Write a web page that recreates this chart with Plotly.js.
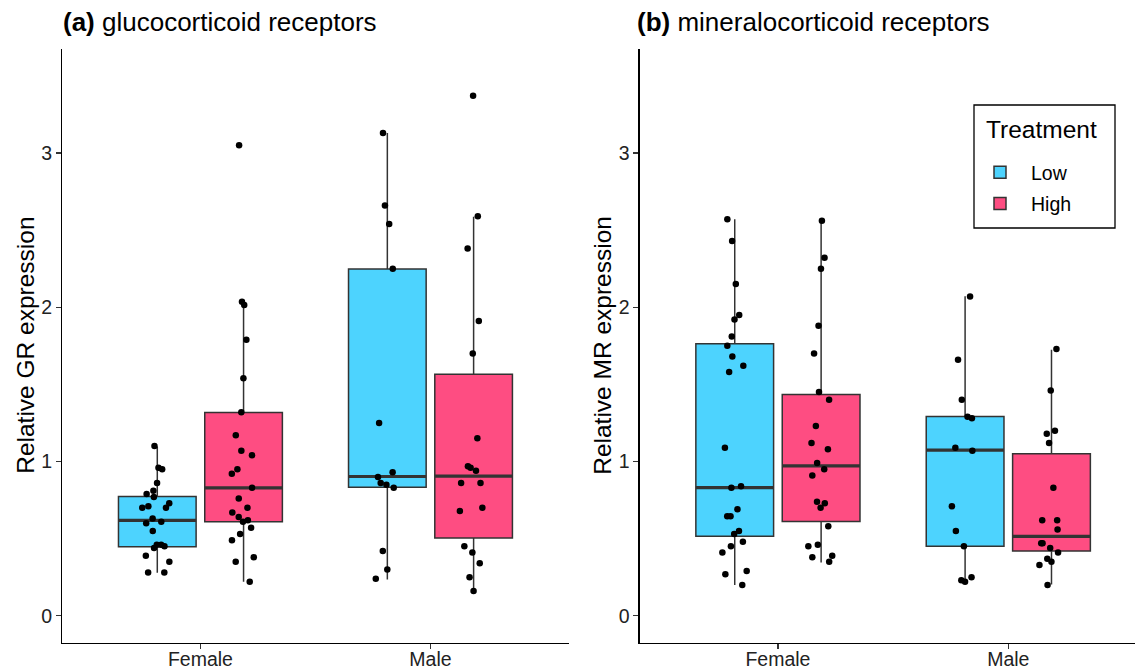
<!DOCTYPE html>
<html>
<head>
<meta charset="utf-8">
<script src="https://cdn.plot.ly/plotly-3.0.1.min.js"></script>
<style>
  html, body { margin: 0; padding: 0; background: #fff; }
  #chart { width: 1135px; height: 669px; }
</style>
</head>
<body>
<div id="chart"></div>
<script>
// ---------------- data ----------------
const categories = ['Female', 'Male'];
const treatments = ['Low', 'High'];

// Panel (a): relative GR expression, individual samples
const GR_low_female  = [1.10, 0.95, 0.96, 0.86, 0.81, 0.79, 0.77, 0.73, 0.70, 0.71, 0.70, 0.63, 0.61, 0.60, 0.55, 0.46, 0.44, 0.46, 0.45, 0.39, 0.35, 0.28, 0.28];
const GR_high_female = [3.05, 2.035, 2.015, 1.79, 1.54, 1.32, 1.17, 1.07, 1.04, 0.95, 0.92, 0.83, 0.76, 0.70, 0.67, 0.64, 0.62, 0.61, 0.57, 0.53, 0.49, 0.38, 0.35, 0.22];
const GR_low_male    = [3.13, 2.66, 2.54, 2.25, 1.25, 0.93, 0.90, 0.86, 0.85, 0.83, 0.42, 0.30, 0.24];
const GR_high_male   = [3.37, 2.59, 2.38, 1.91, 1.70, 1.15, 0.97, 0.96, 0.94, 0.86, 0.86, 0.70, 0.68, 0.45, 0.41, 0.34, 0.25, 0.16];

// Panel (a): box statistics [Female, Male]
const GR_low_q1      = [0.448, 0.833];
const GR_low_median  = [0.619, 0.903];
const GR_low_q3      = [0.773, 2.247];
const GR_low_lower   = [0.279, 0.236];
const GR_low_upper   = [1.097, 3.130];
const GR_high_q1     = [0.610, 0.504];
const GR_high_median = [0.829, 0.905];
const GR_high_q3     = [1.318, 1.565];
const GR_high_lower  = [0.221, 0.162];
const GR_high_upper  = [2.024, 2.587];

// Panel (b): relative MR expression, individual samples
const MR_low_female  = [2.57, 2.43, 2.15, 1.92, 1.95, 1.81, 1.75, 1.68, 1.62, 1.58, 1.09, 0.84, 0.83, 0.69, 0.645, 0.645, 0.55, 0.53, 0.48, 0.45, 0.41, 0.29, 0.27, 0.20];
const MR_high_female = [2.56, 2.32, 2.25, 1.88, 1.70, 1.45, 1.40, 1.23, 1.12, 1.08, 0.99, 0.95, 0.91, 0.74, 0.73, 0.70, 0.58, 0.46, 0.45, 0.39, 0.38, 0.35];
const MR_low_male    = [2.07, 1.66, 1.40, 1.28, 1.29, 1.09, 1.07, 0.71, 0.55, 0.45, 0.23, 0.22, 0.25];
const MR_high_male   = [1.73, 1.46, 1.20, 1.18, 1.12, 0.83, 0.62, 0.62, 0.56, 0.47, 0.47, 0.44, 0.41, 0.37, 0.35, 0.33, 0.20];

// Panel (b): box statistics [Female, Male]
const MR_low_q1      = [0.515, 0.450];
const MR_low_median  = [0.831, 1.074];
const MR_low_q3      = [1.764, 1.292];
const MR_low_lower   = [0.199, 0.221];
const MR_low_upper   = [2.571, 2.071];
const MR_high_q1     = [0.612, 0.420];
const MR_high_median = [0.972, 0.515];
const MR_high_q3     = [1.435, 1.050];
const MR_high_lower  = [0.346, 0.203];
const MR_high_upper  = [2.560, 1.725];

const yTicks = [0, 1, 2, 3];
const panelTitles = ['<b>(a)</b> glucocorticoid receptors', '<b>(b)</b> mineralocorticoid receptors'];
const yTitles = ['Relative GR expression', 'Relative MR expression'];
const legendTitle = 'Treatment';

// ---------------- styling ----------------
const FONT = 'Liberation Sans, Arial, Helvetica, sans-serif';
const fills = { Low: '#4DD3FE', High: '#FE4D82' };
const OUTLINE = '#333333';

function statBox(name, xa, ya, st, showlegend) {
  return {
    type: 'box', name: name, legendgroup: name, showlegend: showlegend,
    offsetgroup: name, xaxis: xa, yaxis: ya,
    x: categories,
    q1: st.q1, median: st.median, q3: st.q3, lowerfence: st.lower, upperfence: st.upper,
    fillcolor: fills[name], line: { color: OUTLINE, width: 1.5 },
    whiskerwidth: 0, boxpoints: false, hoverinfo: 'skip'
  };
}
function medianLine(name, xa, ya, st) {
  return {
    type: 'box', name: name, legendgroup: name, showlegend: false,
    offsetgroup: name, xaxis: xa, yaxis: ya,
    x: categories,
    q1: st.median, median: st.median, q3: st.median, lowerfence: st.median, upperfence: st.median,
    fillcolor: 'rgba(0,0,0,0)', line: { color: OUTLINE, width: 3.2 },
    whiskerwidth: 0, boxpoints: false, hoverinfo: 'skip'
  };
}
function points(name, xa, ya, femaleVals, maleVals) {
  const xs = femaleVals.map(() => categories[0]).concat(maleVals.map(() => categories[1]));
  return {
    type: 'box', name: name, legendgroup: name, showlegend: false,
    offsetgroup: name, xaxis: xa, yaxis: ya,
    x: xs, y: femaleVals.concat(maleVals),
    boxpoints: 'all', jitter: 0.4, pointpos: 0,
    fillcolor: 'rgba(0,0,0,0)', line: { color: 'rgba(0,0,0,0)', width: 0 },
    marker: { color: '#000000', size: 6.5, line: { width: 0 } },
    whiskerwidth: 0, hoveron: 'points'
  };
}

const GRstats = {
  Low:  { q1: GR_low_q1,  median: GR_low_median,  q3: GR_low_q3,  lower: GR_low_lower,  upper: GR_low_upper },
  High: { q1: GR_high_q1, median: GR_high_median, q3: GR_high_q3, lower: GR_high_lower, upper: GR_high_upper }
};
const MRstats = {
  Low:  { q1: MR_low_q1,  median: MR_low_median,  q3: MR_low_q3,  lower: MR_low_lower,  upper: MR_low_upper },
  High: { q1: MR_high_q1, median: MR_high_median, q3: MR_high_q3, lower: MR_high_lower, upper: MR_high_upper }
};

const traces = [
  statBox('Low', 'x', 'y', GRstats.Low, true),
  statBox('High', 'x', 'y', GRstats.High, true),
  medianLine('Low', 'x', 'y', GRstats.Low),
  medianLine('High', 'x', 'y', GRstats.High),
  points('Low', 'x', 'y', GR_low_female, GR_low_male),
  points('High', 'x', 'y', GR_high_female, GR_high_male),

  statBox('Low', 'x2', 'y2', MRstats.Low, false),
  statBox('High', 'x2', 'y2', MRstats.High, false),
  medianLine('Low', 'x2', 'y2', MRstats.Low),
  medianLine('High', 'x2', 'y2', MRstats.High),
  points('Low', 'x2', 'y2', MR_low_female, MR_low_male),
  points('High', 'x2', 'y2', MR_high_female, MR_high_male)
];

const W = 1135, H = 669;
const yDomain = [1 - 642.8 / H, 1 - 48.8 / H];

function xAxis(domain, range) {
  return {
    domain: domain, type: 'category', categoryorder: 'array', categoryarray: categories,
    range: range, showline: true, linecolor: '#000', linewidth: 1.3,
    ticks: 'outside', ticklen: 5, tickwidth: 1.3, tickcolor: '#333',
    ticklabelstandoff: -7,
    tickfont: { family: FONT, size: 19.5, color: '#222' },
    showgrid: false, zeroline: false, fixedrange: true
  };
}
function yAxis(anchor) {
  return {
    domain: yDomain, anchor: anchor, range: [-0.175, 3.675],
    tickmode: 'array', tickvals: yTicks, ticktext: yTicks.map(String),
    showline: true, linecolor: '#000', linewidth: 1.3,
    ticks: 'outside', ticklen: 5, tickwidth: 1.3, tickcolor: '#333',
    tickfont: { family: FONT, size: 19.5, color: '#222' },
    showgrid: false, zeroline: false, fixedrange: true
  };
}

const layout = {
  width: W, height: H,
  margin: { l: 0, r: 0, t: 0, b: 0 },
  paper_bgcolor: '#fff', plot_bgcolor: '#fff',
  boxmode: 'group', boxgap: 0.25, boxgroupgap: 0.1,
  font: { family: FONT, color: '#000' },
  xaxis:  Object.assign(xAxis([62.4 / W, 568.5 / W], [-0.6, 1.6]), { anchor: 'y' }),
  yaxis:  yAxis('x'),
  xaxis2: Object.assign(xAxis([639.7 / W, 1], [-0.6, 1.55]), { anchor: 'y2' }),
  yaxis2: yAxis('x2'),
  showlegend: true,
  legend: {
    x: 969 / W, y: 1 - 153 / H, xanchor: 'left', yanchor: 'top',
    bgcolor: 'rgba(0,0,0,0)', borderwidth: 0,
    font: { family: FONT, size: 19.5, color: '#000' },
    tracegroupgap: 3, itemwidth: 52
  },
  shapes: [
    // legend frame
    { type: 'rect', xref: 'paper', yref: 'paper',
      x0: 974 / W, x1: 1115 / W, y0: 1 - 228 / H, y1: 1 - 105 / H,
      line: { color: '#000', width: 1.3 }, fillcolor: '#fff', layer: 'above' }
  ],
  annotations: [
    { xref: 'paper', yref: 'paper', x: 61 / W, y: 1 - 22 / H, xanchor: 'left', yanchor: 'middle',
      text: panelTitles[0], showarrow: false, font: { family: FONT, size: 26, color: '#000' } },
    { xref: 'paper', yref: 'paper', x: 635 / W, y: 1 - 22 / H, xanchor: 'left', yanchor: 'middle',
      text: panelTitles[1], showarrow: false, font: { family: FONT, size: 26, color: '#000' } },
    { xref: 'paper', yref: 'paper', x: 26 / W, y: 1 - 345.8 / H, xanchor: 'center', yanchor: 'middle',
      text: yTitles[0], textangle: -90, showarrow: false, font: { family: FONT, size: 24.5, color: '#000' } },
    { xref: 'paper', yref: 'paper', x: 603 / W, y: 1 - 345.8 / H, xanchor: 'center', yanchor: 'middle',
      text: yTitles[1], textangle: -90, showarrow: false, font: { family: FONT, size: 24.5, color: '#000' } },
    // legend title
    { xref: 'paper', yref: 'paper', x: 984 / W, y: 1 - 129 / H, xanchor: 'left', yanchor: 'middle',
      text: legendTitle, showarrow: false, font: { family: FONT, size: 24.5, color: '#000' } }
  ]
};

Plotly.newPlot('chart', traces, layout, { staticPlot: true, displayModeBar: false });
</script>
</body>
</html>
